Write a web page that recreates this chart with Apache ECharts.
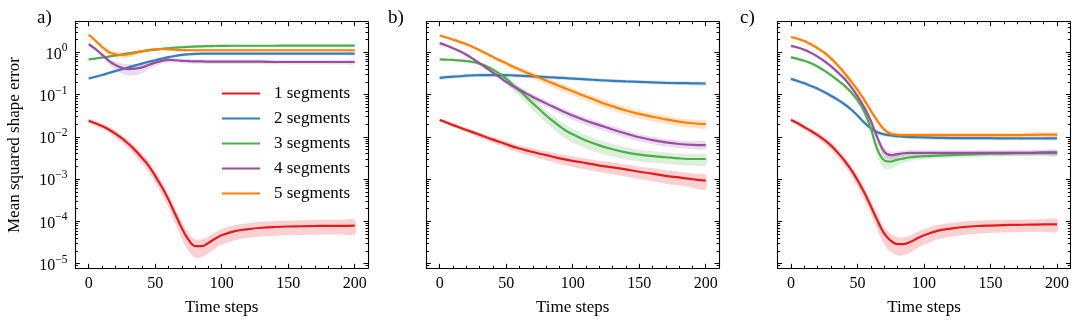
<!DOCTYPE html>
<html>
<head>
<meta charset="utf-8">
<script src="https://cdn.jsdelivr.net/npm/echarts@6/dist/echarts.min.js"></script>
<style>
  html, body { margin: 0; padding: 0; background: #fff; }
  #chart { width: 1079px; height: 325px; }
</style>
</head>
<body>
<div id="chart"></div>
<script>
const steps = [0, 5, 10, 15, 20, 25, 30, 35, 40, 45, 50, 55, 60, 65, 70, 75, 80, 85, 90, 95, 100,
  110, 120, 130, 140, 150, 160, 170, 180, 190, 200];

const seriesNames = ['1 segments', '2 segments', '3 segments', '4 segments', '5 segments'];
const panelLabels = ['a)', 'b)', 'c)'];
const xMajorTicks = [0, 50, 100, 150, 200];
const xMinorTicks = [10, 20, 30, 40, 60, 70, 80, 90, 110, 120, 130, 140, 160, 170, 180, 190];
const yMajorTicks = [1e-5, 1e-4, 1e-3, 1e-2, 1e-1, 1];

// panel a) mean and relative spread
const meanA1 = [0.024, 0.021, 0.018, 0.015, 0.012, 0.0092, 0.0068, 0.0048, 0.0032, 0.0021, 0.0012, 6.5e-4, 3.3e-4, 1.5e-4, 7.0e-5, 3.7e-5, 2.6e-5, 2.6e-5, 3.1e-5, 3.9e-5, 4.7e-5,
  5.9e-5, 6.6e-5, 7.1e-5, 7.4e-5, 7.6e-5, 7.7e-5, 7.8e-5, 7.9e-5, 7.9e-5, 8.0e-5];
const meanA2 = [0.24, 0.265, 0.29, 0.325, 0.36, 0.40, 0.44, 0.49, 0.54, 0.60, 0.65, 0.71, 0.77, 0.82, 0.87, 0.90, 0.92, 0.93, 0.93, 0.93, 0.93,
  0.93, 0.93, 0.93, 0.93, 0.93, 0.93, 0.93, 0.93, 0.93, 0.93];
const meanA3 = [0.68, 0.71, 0.75, 0.79, 0.84, 0.89, 0.95, 1.0, 1.06, 1.11, 1.16, 1.21, 1.25, 1.29, 1.32, 1.35, 1.37, 1.39, 1.40, 1.41, 1.42,
  1.43, 1.43, 1.43, 1.43, 1.44, 1.44, 1.44, 1.44, 1.44, 1.44];
const meanA4 = [1.55, 1.2, 0.88, 0.64, 0.50, 0.43, 0.40, 0.41, 0.44, 0.50, 0.57, 0.63, 0.66, 0.65, 0.63, 0.62, 0.61, 0.61, 0.60, 0.60, 0.60,
  0.60, 0.60, 0.60, 0.59, 0.59, 0.59, 0.59, 0.59, 0.59, 0.59];
const meanA5 = [2.6, 1.9, 1.35, 1.02, 0.90, 0.87, 0.90, 0.97, 1.05, 1.13, 1.18, 1.20, 1.18, 1.15, 1.13, 1.12, 1.12, 1.12, 1.12, 1.12, 1.12,
  1.12, 1.12, 1.12, 1.12, 1.12, 1.12, 1.12, 1.12, 1.12, 1.12];
const spreadA1 = [0.12, 0.13, 0.15, 0.17, 0.19, 0.21, 0.23, 0.25, 0.27, 0.29, 0.31, 0.33, 0.36, 0.40, 0.44, 0.46, 0.46, 0.45, 0.43, 0.41, 0.40,
  0.39, 0.38, 0.38, 0.38, 0.38, 0.38, 0.38, 0.38, 0.38, 0.38];
const spreadA2 = [0.08, 0.08, 0.08, 0.08, 0.08, 0.08, 0.08, 0.08, 0.08, 0.08, 0.08, 0.08, 0.08, 0.08, 0.08, 0.08, 0.08, 0.08, 0.08, 0.08, 0.08,
  0.08, 0.08, 0.08, 0.08, 0.08, 0.08, 0.08, 0.08, 0.08, 0.08];
const spreadA3 = [0.06, 0.06, 0.06, 0.06, 0.06, 0.06, 0.06, 0.06, 0.06, 0.06, 0.06, 0.06, 0.06, 0.06, 0.06, 0.06, 0.06, 0.06, 0.06, 0.06, 0.06,
  0.06, 0.06, 0.06, 0.06, 0.06, 0.06, 0.06, 0.06, 0.06, 0.06];
const spreadA4 = [0.06, 0.08, 0.12, 0.17, 0.22, 0.27, 0.30, 0.30, 0.27, 0.22, 0.18, 0.15, 0.13, 0.12, 0.12, 0.12, 0.12, 0.12, 0.12, 0.12, 0.12,
  0.12, 0.12, 0.12, 0.12, 0.12, 0.12, 0.12, 0.12, 0.12, 0.12];
const spreadA5 = [0.06, 0.09, 0.12, 0.14, 0.15, 0.15, 0.14, 0.12, 0.10, 0.08, 0.07, 0.06, 0.06, 0.06, 0.06, 0.06, 0.06, 0.06, 0.06, 0.06, 0.06,
  0.06, 0.06, 0.06, 0.06, 0.06, 0.06, 0.06, 0.06, 0.06, 0.06];

// panel b)
const meanB1 = [0.025, 0.022, 0.019, 0.0167, 0.0146, 0.0128, 0.0112, 0.0098, 0.0086, 0.0076, 0.0067, 0.0059, 0.0053, 0.0048, 0.0044, 0.0040, 0.0037, 0.0034, 0.0031, 0.0029, 0.0027,
  0.0024, 0.0021, 0.0019, 0.0017, 0.0015, 0.00135, 0.0012, 0.0011, 0.0010, 0.00092];
const meanB2 = [0.25, 0.258, 0.265, 0.272, 0.28, 0.285, 0.29, 0.29, 0.29, 0.29, 0.29, 0.285, 0.28, 0.275, 0.27, 0.265, 0.26, 0.255, 0.25, 0.245, 0.24,
  0.23, 0.22, 0.212, 0.205, 0.20, 0.195, 0.19, 0.187, 0.185, 0.183];
const meanB3 = [0.68, 0.67, 0.66, 0.64, 0.62, 0.59, 0.54, 0.47, 0.39, 0.31, 0.24, 0.17, 0.125, 0.088, 0.062, 0.045, 0.032, 0.024, 0.018, 0.014, 0.0115,
  0.0082, 0.0063, 0.0051, 0.0043, 0.0038, 0.0035, 0.0033, 0.0031, 0.0030, 0.0030];
const meanB4 = [1.65, 1.45, 1.25, 1.06, 0.88, 0.70, 0.55, 0.43, 0.33, 0.26, 0.20, 0.16, 0.13, 0.107, 0.088, 0.074, 0.062, 0.052, 0.044, 0.037, 0.032,
  0.024, 0.019, 0.015, 0.012, 0.0098, 0.0084, 0.0074, 0.0068, 0.0065, 0.0064];
const meanB5 = [2.5, 2.25, 2.0, 1.77, 1.55, 1.33, 1.12, 0.94, 0.78, 0.65, 0.55, 0.46, 0.39, 0.335, 0.29, 0.25, 0.215, 0.185, 0.16, 0.138, 0.12,
  0.09, 0.068, 0.053, 0.042, 0.035, 0.030, 0.026, 0.023, 0.021, 0.020];
const spreadB1 = [0.08, 0.09, 0.10, 0.11, 0.12, 0.13, 0.14, 0.15, 0.16, 0.17, 0.18, 0.19, 0.20, 0.21, 0.22, 0.23, 0.24, 0.25, 0.26, 0.27, 0.28,
  0.29, 0.30, 0.31, 0.32, 0.33, 0.34, 0.35, 0.36, 0.37, 0.38];
const spreadB2 = [0.10, 0.10, 0.10, 0.10, 0.10, 0.10, 0.10, 0.10, 0.10, 0.10, 0.10, 0.10, 0.10, 0.10, 0.10, 0.10, 0.10, 0.10, 0.10, 0.10, 0.10,
  0.10, 0.10, 0.10, 0.10, 0.10, 0.10, 0.10, 0.10, 0.10, 0.10];
const spreadB3 = [0.07, 0.07, 0.07, 0.08, 0.08, 0.09, 0.10, 0.12, 0.14, 0.17, 0.20, 0.23, 0.26, 0.29, 0.31, 0.33, 0.34, 0.35, 0.36, 0.36, 0.36,
  0.35, 0.34, 0.33, 0.32, 0.31, 0.30, 0.30, 0.30, 0.30, 0.30];
const spreadB4 = [0.06, 0.06, 0.07, 0.07, 0.08, 0.08, 0.09, 0.10, 0.11, 0.12, 0.13, 0.14, 0.15, 0.16, 0.17, 0.17, 0.18, 0.18, 0.19, 0.19, 0.20,
  0.20, 0.20, 0.20, 0.20, 0.20, 0.20, 0.20, 0.20, 0.20, 0.20];
const spreadB5 = [0.06, 0.06, 0.07, 0.07, 0.08, 0.08, 0.09, 0.10, 0.11, 0.12, 0.13, 0.14, 0.15, 0.16, 0.17, 0.18, 0.19, 0.19, 0.20, 0.20, 0.21,
  0.21, 0.22, 0.22, 0.22, 0.22, 0.22, 0.22, 0.22, 0.22, 0.22];

// panel c)
const meanC1 = [0.025, 0.021, 0.017, 0.0138, 0.011, 0.0085, 0.0063, 0.0043, 0.0028, 0.0017, 0.00095, 4.9e-4, 2.3e-4, 1.05e-4, 5.2e-5, 3.5e-5, 2.9e-5, 2.9e-5, 3.3e-5, 4.0e-5, 4.7e-5,
  6.0e-5, 6.8e-5, 7.4e-5, 7.8e-5, 8.0e-5, 8.2e-5, 8.3e-5, 8.4e-5, 8.5e-5, 8.5e-5];
const meanC2 = [0.235, 0.21, 0.185, 0.16, 0.138, 0.115, 0.094, 0.076, 0.060, 0.045, 0.032, 0.022, 0.016, 0.0128, 0.0115, 0.0108, 0.0104, 0.0101, 0.0099, 0.0098, 0.0097,
  0.0095, 0.0094, 0.0093, 0.0093, 0.0093, 0.0092, 0.0092, 0.0092, 0.0092, 0.0092];
const meanC3 = [0.76, 0.70, 0.63, 0.55, 0.46, 0.37, 0.29, 0.22, 0.165, 0.115, 0.074, 0.040, 0.016, 0.0050, 0.0028, 0.0026, 0.0029, 0.0031, 0.0033, 0.0034, 0.0035,
  0.0036, 0.0037, 0.0038, 0.0039, 0.0040, 0.0040, 0.0041, 0.0041, 0.0041, 0.0041];
const meanC4 = [1.42, 1.3, 1.15, 0.97, 0.79, 0.62, 0.47, 0.34, 0.24, 0.155, 0.092, 0.05, 0.024, 0.0095, 0.0045, 0.0037, 0.0039, 0.0041, 0.0042, 0.0042, 0.0042,
  0.0042, 0.0042, 0.0042, 0.0042, 0.0042, 0.0042, 0.0042, 0.0042, 0.0043, 0.0043];
const meanC5 = [2.3, 2.1, 1.85, 1.55, 1.25, 0.98, 0.72, 0.50, 0.33, 0.21, 0.13, 0.075, 0.042, 0.024, 0.015, 0.0118, 0.0112, 0.011, 0.011, 0.011, 0.011,
  0.011, 0.011, 0.011, 0.011, 0.011, 0.011, 0.011, 0.0112, 0.0113, 0.0113];
const spreadC1 = [0.10, 0.11, 0.13, 0.15, 0.17, 0.19, 0.21, 0.23, 0.25, 0.27, 0.30, 0.33, 0.36, 0.40, 0.44, 0.46, 0.46, 0.45, 0.43, 0.41, 0.40,
  0.38, 0.36, 0.35, 0.34, 0.33, 0.33, 0.33, 0.33, 0.33, 0.33];
const spreadC2 = [0.10, 0.10, 0.10, 0.10, 0.11, 0.11, 0.12, 0.12, 0.12, 0.12, 0.12, 0.12, 0.12, 0.11, 0.10, 0.10, 0.10, 0.10, 0.10, 0.10, 0.10,
  0.10, 0.10, 0.10, 0.10, 0.10, 0.10, 0.10, 0.10, 0.10, 0.10];
const spreadC3 = [0.08, 0.08, 0.08, 0.08, 0.09, 0.09, 0.10, 0.10, 0.11, 0.12, 0.14, 0.18, 0.25, 0.32, 0.35, 0.33, 0.28, 0.22, 0.18, 0.16, 0.15,
  0.14, 0.14, 0.14, 0.14, 0.14, 0.14, 0.14, 0.14, 0.14, 0.14];
const spreadC4 = [0.07, 0.07, 0.07, 0.08, 0.08, 0.09, 0.09, 0.10, 0.11, 0.12, 0.14, 0.16, 0.20, 0.24, 0.25, 0.22, 0.18, 0.16, 0.15, 0.15, 0.15,
  0.15, 0.15, 0.15, 0.15, 0.15, 0.15, 0.15, 0.15, 0.15, 0.15];
const spreadC5 = [0.07, 0.07, 0.08, 0.09, 0.10, 0.11, 0.12, 0.13, 0.14, 0.15, 0.16, 0.17, 0.17, 0.16, 0.15, 0.14, 0.14, 0.14, 0.14, 0.14, 0.14,
  0.14, 0.14, 0.14, 0.14, 0.14, 0.14, 0.14, 0.14, 0.14, 0.14];

const panels = [
  { means: [meanA1, meanA2, meanA3, meanA4, meanA5], spreads: [spreadA1, spreadA2, spreadA3, spreadA4, spreadA5] },
  { means: [meanB1, meanB2, meanB3, meanB4, meanB5], spreads: [spreadB1, spreadB2, spreadB3, spreadB4, spreadB5] },
  { means: [meanC1, meanC2, meanC3, meanC4, meanC5], spreads: [spreadC1, spreadC2, spreadC3, spreadC4, spreadC5] },
];

const colors = ['#e41a1c', '#377eb8', '#4daf4a', '#984ea3', '#ff7f00'];
const FONT = 'Liberation Serif';
const Y_MIN = 7.8e-6;
const Y_MAX = 5.3;
const gridLefts = [75.4, 426.4, 777.7];
const titleLefts = [37, 388, 740];

// log minor ticks 2..9 x 10^n inside the axis range
const yMinorTicks = [];
for (let n = -6; n <= 0; n++) {
  for (let k = 2; k <= 9; k++) {
    const v = k * Math.pow(10, n);
    if (v >= Y_MIN && v <= Y_MAX) yMinorTicks.push(v);
  }
}

const hexToRgba = (hex, a) => {
  const n = parseInt(hex.slice(1), 16);
  return `rgba(${(n >> 16) & 255}, ${(n >> 8) & 255}, ${n & 255}, ${a})`;
};

const axisLineStyle = { color: '#000', width: 1.1 };
const tickLineStyle = { color: '#000', width: 1 };

const grid = [];
const xAxis = [];
const yAxis = [];
const series = [];
const title = [];

panels.forEach((panel, p) => {
  grid.push({ left: gridLefts[p], top: 21.7, width: 292.6, height: 246.6 });
  title.push({
    text: panelLabels[p], left: titleLefts[p], top: 9, padding: 0,
    textStyle: { fontFamily: FONT, fontSize: 19, fontWeight: 'normal', color: '#000' },
  });

  const xBase = { gridIndex: p, type: 'value', min: -10, max: 210, splitLine: { show: false } };
  // major bottom (labels), major top, minor bottom, minor top
  xAxis.push({
    ...xBase, position: 'bottom',
    axisLine: { show: true, onZero: false, lineStyle: axisLineStyle },
    axisTick: { show: true, inside: true, length: 4.5, customValues: xMajorTicks, lineStyle: tickLineStyle },
    axisLabel: { show: true, customValues: xMajorTicks, margin: 7, fontFamily: FONT, fontSize: 16, color: '#000' },
    name: 'Time steps', nameLocation: 'middle', nameGap: 31,
    nameTextStyle: { fontFamily: FONT, fontSize: 17, color: '#000' },
  });
  xAxis.push({
    ...xBase, position: 'top',
    axisLine: { show: true, onZero: false, lineStyle: axisLineStyle },
    axisTick: { show: true, inside: true, length: 4.5, customValues: xMajorTicks, lineStyle: tickLineStyle },
    axisLabel: { show: false },
  });
  xAxis.push({
    ...xBase, position: 'bottom',
    axisLine: { show: false, onZero: false },
    axisTick: { show: true, inside: true, length: 2.5, customValues: xMinorTicks, lineStyle: tickLineStyle },
    axisLabel: { show: false },
  });
  xAxis.push({
    ...xBase, position: 'top',
    axisLine: { show: false, onZero: false },
    axisTick: { show: true, inside: true, length: 2.5, customValues: xMinorTicks, lineStyle: tickLineStyle },
    axisLabel: { show: false },
  });

  const yBase = { gridIndex: p, type: 'log', logBase: 10, min: Y_MIN, max: Y_MAX, splitLine: { show: false } };
  const yLeft = {
    ...yBase, position: 'left',
    axisLine: { show: true, onZero: false, lineStyle: axisLineStyle },
    axisTick: { show: true, inside: true, length: 4.5, customValues: yMajorTicks, lineStyle: tickLineStyle },
    axisLabel: {
      show: p === 0, customValues: yMajorTicks, margin: 8,
      formatter: (v) => {
        const e = Math.round(Math.log10(v));
        return `{b|10}{s|${e < 0 ? '\u2212' + (-e) : e}}`;
      },
      rich: {
        b: { fontFamily: FONT, fontSize: 16, color: '#000', lineHeight: 20, verticalAlign: 'bottom' },
        s: { fontFamily: FONT, fontSize: 11.5, color: '#000', lineHeight: 12, verticalAlign: 'top' },
      },
    },
  };
  if (p === 0) {
    yLeft.name = 'Mean squared shape error';
    yLeft.nameLocation = 'middle';
    yLeft.nameGap = 52;
    yLeft.nameTextStyle = { fontFamily: FONT, fontSize: 17, color: '#000' };
  }
  yAxis.push(yLeft);
  yAxis.push({
    ...yBase, position: 'right',
    axisLine: { show: true, onZero: false, lineStyle: axisLineStyle },
    axisTick: { show: true, inside: true, length: 4.5, customValues: yMajorTicks, lineStyle: tickLineStyle },
    axisLabel: { show: false },
  });
  yAxis.push({
    ...yBase, position: 'left',
    axisLine: { show: false, onZero: false },
    axisTick: { show: true, inside: true, length: 2.5, customValues: yMinorTicks, lineStyle: tickLineStyle },
    axisLabel: { show: false },
  });
  yAxis.push({
    ...yBase, position: 'right',
    axisLine: { show: false, onZero: false },
    axisTick: { show: true, inside: true, length: 2.5, customValues: yMinorTicks, lineStyle: tickLineStyle },
    axisLabel: { show: false },
  });

  const xi = p * 4;
  const yi = p * 4;
  // shaded mean ± sd bands, one polygon each, placed through the axes
  panel.means.forEach((mean, s) => {
    const spread = panel.spreads[s];
    const bandRows = steps.map((t, i) => [t, mean[i] * (1 - spread[i]), mean[i] * (1 + spread[i])]);
    series.push({
      type: 'custom', xAxisIndex: xi, yAxisIndex: yi, name: `${seriesNames[s]} band`,
      silent: true, z: 1, clip: true,
      encode: { x: 0, y: [1, 2] },
      data: bandRows,
      renderItem: (params, api) => {
        if (params.dataIndex !== 0) return null;
        const upper = bandRows.map((r) => api.coord([r[0], r[2]]));
        const lower = bandRows.map((r) => api.coord([r[0], r[1]])).reverse();
        return {
          type: 'polygon',
          shape: { points: upper.concat(lower), smooth: 0.3 },
          style: { fill: hexToRgba(colors[s], 0.2), stroke: null },
        };
      },
    });
  });
  panel.means.forEach((mean, s) => {
    series.push({
      type: 'line', xAxisIndex: xi, yAxisIndex: yi, name: seriesNames[s],
      smooth: 0.35, symbol: 'none', showSymbol: false, z: 3,
      color: colors[s],
      lineStyle: { color: colors[s], width: 2.2 },
      data: steps.map((t, i) => [t, mean[i]]),
    });
  });
});

const chart = echarts.init(document.getElementById('chart'), null, { renderer: 'canvas' });
chart.setOption({
  animation: false,
  backgroundColor: '#fff',
  title,
  legend: {
    data: seriesNames,
    orient: 'vertical',
    left: 222, top: 85, padding: 0,
    icon: 'rect',
    itemWidth: 38, itemHeight: 2.2, itemGap: 8,
    selectedMode: false,
    textStyle: { fontFamily: FONT, fontSize: 17, color: '#000', padding: [0, 0, 0, 9] },
  },
  grid,
  xAxis,
  yAxis,
  series,
});
window.addEventListener('resize', () => chart.resize());
</script>
</body>
</html>
